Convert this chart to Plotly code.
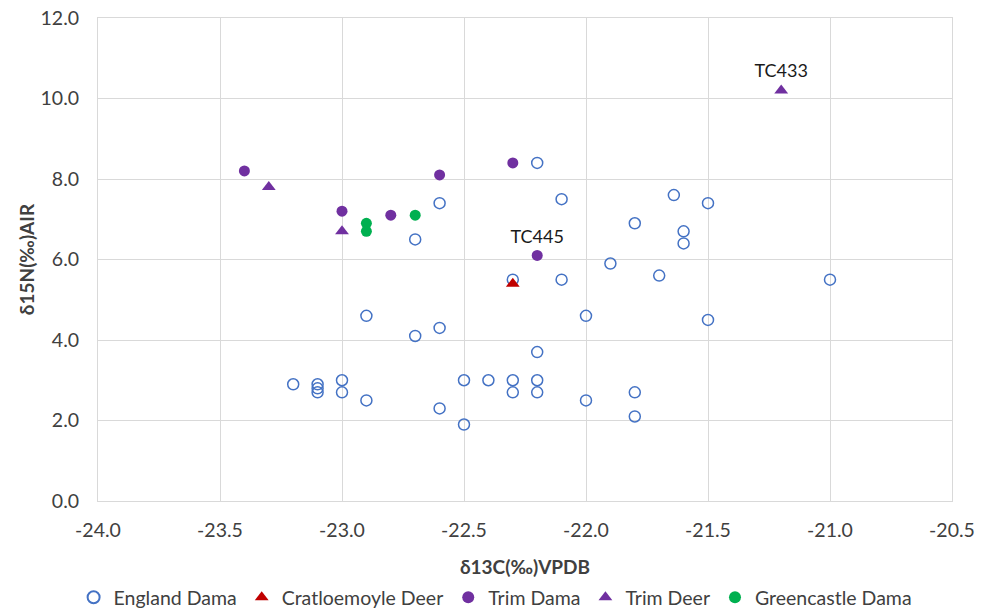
import plotly.graph_objects as go

# England Dama
england_x = [-22.2, -22.6, -22.1, -22.7, -21.8, -21.64, -21.5, -21.6, -21.6, -21.9,
             -21.7, -22.1, -22.3, -21.0, -22.0, -21.5, -22.9, -22.6, -22.7, -22.2,
             -23.2, -23.1, -23.1, -23.1, -23.0, -23.0, -22.9, -22.6, -22.5, -22.5,
             -22.4, -22.3, -22.3, -22.2, -22.2, -22.0, -21.8, -21.8]
england_y = [8.4, 7.4, 7.5, 6.5, 6.9, 7.6, 7.4, 6.7, 6.4, 5.9,
             5.6, 5.5, 5.5, 5.5, 4.6, 4.5, 4.6, 4.3, 4.1, 3.7,
             2.9, 2.9, 2.8, 2.7, 3.0, 2.7, 2.5, 2.3, 3.0, 1.9,
             3.0, 3.0, 2.7, 3.0, 2.7, 2.5, 2.7, 2.1]

cratloe_x = [-22.3]
cratloe_y = [5.4]

trim_dama_x = [-23.4, -23.0, -22.8, -22.6, -22.3, -22.2]
trim_dama_y = [8.2, 7.2, 7.1, 8.1, 8.4, 6.1]
trim_dama_labels = ["", "", "", "", "", "TC445"]

trim_deer_x = [-23.3, -23.0, -21.2]
trim_deer_y = [7.8, 6.7, 10.2]
trim_deer_labels = ["", "", "TC433"]

green_x = [-22.9, -22.9, -22.7]
green_y = [6.9, 6.7, 7.1]

x_ticks = [-24.0, -23.5, -23.0, -22.5, -22.0, -21.5, -21.0, -20.5]
y_ticks = [0, 2, 4, 6, 8, 10, 12]

FONT = "Lato, 'Liberation Sans', sans-serif"
TEXT = "#404040"
GRID = "#D9D9D9"

fig = go.Figure()
fig.add_trace(go.Scatter(
    x=england_x, y=england_y, mode="markers", name="England Dama",
    marker=dict(symbol="circle-open", size=11, color="#4472C4", line=dict(width=1.5, color="#4472C4")),
))
fig.add_trace(go.Scatter(
    x=cratloe_x, y=cratloe_y, mode="markers", name="Cratloemoyle Deer",
    marker=dict(symbol="triangle-up", size=12, color="#C00000"),
))
fig.add_trace(go.Scatter(
    x=trim_dama_x, y=trim_dama_y, mode="markers+text", name="Trim Dama",
    text=trim_dama_labels, textposition="top center",
    textfont=dict(size=18, color="#1a1a1a", family=FONT),
    marker=dict(symbol="circle", size=11, color="#7030A0"),
))
fig.add_trace(go.Scatter(
    x=trim_deer_x, y=trim_deer_y, mode="markers+text", name="Trim Deer",
    text=trim_deer_labels, textposition="top center",
    textfont=dict(size=18, color="#1a1a1a", family=FONT),
    marker=dict(symbol="triangle-up", size=12, color="#7030A0"),
))
fig.add_trace(go.Scatter(
    x=green_x, y=green_y, mode="markers", name="Greencastle Dama",
    marker=dict(symbol="circle", size=11, color="#00B050"),
))

fig.update_layout(
    width=987, height=611,
    margin=dict(l=98, r=35, t=18, b=110, autoexpand=False),
    paper_bgcolor="white", plot_bgcolor="white",
    font=dict(family=FONT, size=19, color=TEXT),
    showlegend=True,
    legend=dict(orientation="h", x=0.465, xanchor="center", yref="container", y=0.022, yanchor="middle",
                font=dict(size=19.5, color=TEXT), itemsizing="constant", itemwidth=30,
                tracegroupgap=0),
    xaxis=dict(
        range=[-24, -20.5], tickvals=x_ticks, ticktext=[f"{v:.1f}" for v in x_ticks],
        showgrid=True, gridcolor=GRID, gridwidth=1, zeroline=False,
        showline=True, linecolor=GRID, mirror=True, automargin=False,
        ticks="", ticklabelstandoff=12, tickfont=dict(size=19.5),
        title=dict(text="<b>δ13C(‰)VPDB</b>", font=dict(size=19, color=TEXT), standoff=20),
    ),
    yaxis=dict(
        range=[0, 12], tickvals=y_ticks, ticktext=[f"{v:.1f}" for v in y_ticks],
        showgrid=True, gridcolor=GRID, gridwidth=1, zeroline=False,
        showline=True, linecolor=GRID, mirror=True, automargin=False,
        ticks="", ticklabelstandoff=14, tickfont=dict(size=19.5),
        title=dict(text="<b>δ15N(‰)AIR</b>", font=dict(size=19, color=TEXT), standoff=0),
    ),
)

fig.write_html("out.html", config={"displayModeBar": False},
               post_script="document.body.style.margin='0';")
